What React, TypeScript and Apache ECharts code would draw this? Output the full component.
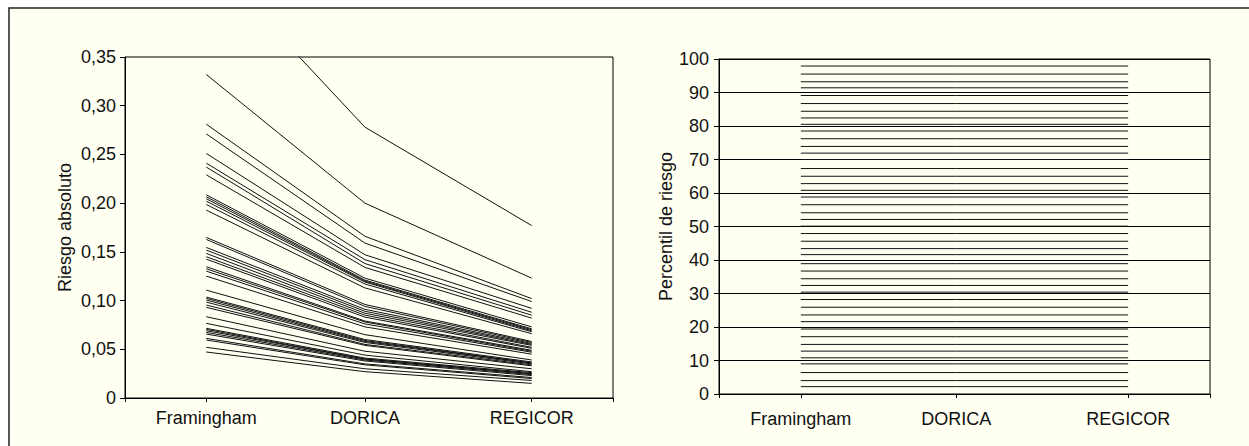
import React, { useEffect, useRef } from "react";
import * as echarts from "echarts";

const categories = ["Framingham", "DORICA", "REGICOR"];
const leftCategoryX = [1, 2.95, 5];
const rightCategoryX = [1, 2.9, 5];
const xTickValuesLeft = [0, 1, 2.95, 5, 6];
const xTickValuesRight = [0, 1, 2.9, 5, 6];

const framingham = [
  0.452, 0.332, 0.281, 0.271, 0.251, 0.241, 0.237, 0.229, 0.2085, 0.2065, 0.2045,
  0.202, 0.1986, 0.1928, 0.1648, 0.1627, 0.1545, 0.1518, 0.1484, 0.145, 0.1425,
  0.1347, 0.1326, 0.1302, 0.1251, 0.1107, 0.1036, 0.1022, 0.1005, 0.0984, 0.0954,
  0.093, 0.0834, 0.0766, 0.0715, 0.0704, 0.069, 0.0673, 0.0656, 0.0612, 0.0595,
  0.052, 0.0472,
];
const dorica = [
  0.278, 0.2, 0.166, 0.159, 0.147, 0.142, 0.138, 0.134, 0.123, 0.121, 0.12,
  0.119, 0.117, 0.113, 0.096, 0.094, 0.091, 0.089, 0.087, 0.085, 0.083,
  0.079, 0.078, 0.076, 0.073, 0.065, 0.06, 0.059, 0.058, 0.057, 0.055,
  0.054, 0.048, 0.044, 0.041, 0.04, 0.04, 0.039, 0.038, 0.035, 0.034,
  0.03, 0.027,
];
const regicor = [
  0.177, 0.123, 0.102, 0.099, 0.092, 0.088, 0.085, 0.082, 0.073, 0.071, 0.07,
  0.069, 0.068, 0.066, 0.058, 0.057, 0.056, 0.055, 0.054, 0.052, 0.051,
  0.049, 0.048, 0.047, 0.045, 0.039, 0.037, 0.036, 0.036, 0.035, 0.034,
  0.033, 0.03, 0.027, 0.026, 0.025, 0.025, 0.024, 0.023, 0.021, 0.02,
  0.018, 0.015,
];
const percentiles = [
  2.2, 4.0, 6.4, 9.0, 10.8, 12.8, 14.8, 17.1, 19.4, 21.6, 23.6, 25.9, 28.2, 30.4,
  32.4, 34.4, 36.7, 38.9, 41.6, 43.4, 45.6, 47.9, 50.1, 52.1, 54.1, 56.5, 58.8,
  60.8, 62.8, 65.0, 67.3, 70.0, 71.9, 73.9, 76.2, 78.5, 80.5, 82.4, 84.4, 86.7,
  89.1, 91.4, 93.2, 95.5, 97.9,
];

const FONT = "'Liberation Sans', Arial, Helvetica, sans-serif";
const TXT = "#111";

export default function App() {
  const ref = useRef<HTMLDivElement>(null);
  useEffect(() => {
    if (!ref.current) return;
    const chart = echarts.init(ref.current, undefined, { renderer: "svg" });

    const xLabel = (positions: number[]) => (v: number) => {
      const i = positions.findIndex((p) => Math.abs(p - v) < 1e-6);
      return i >= 0 ? categories[i] : "";
    };

    const axisCommon = {
      axisLine: { show: true, lineStyle: { color: "#000", width: 1 } },
      axisTick: { show: true, length: 5, lineStyle: { color: "#000", width: 1 } },
    };

    const leftSeries = framingham.map((f, i) => ({
      type: "line",
      xAxisIndex: 0,
      yAxisIndex: 0,
      symbol: "none",
      silent: true,
      clip: true,
      lineStyle: { color: "#111", width: 1 },
      data: [
        [leftCategoryX[0], f],
        [leftCategoryX[1], dorica[i]],
        [leftCategoryX[2], regicor[i]],
      ],
    }));

    const rightSeries = percentiles.map((p) => ({
      type: "line",
      xAxisIndex: 1,
      yAxisIndex: 1,
      symbol: "none",
      silent: true,
      lineStyle: { color: "#111", width: 1 },
      data: [
        [rightCategoryX[0], p],
        [rightCategoryX[1], p],
        [rightCategoryX[2], p],
      ],
    }));

    chart.setOption({
      animation: false,
      backgroundColor: "#ffffff",
      textStyle: { fontFamily: FONT },
      graphic: [
        {
          type: "rect",
          z: -10,
          shape: { x: 9, y: 8, width: 1300, height: 500 },
          style: { fill: "#fffff2", stroke: "#222", lineWidth: 1.5 },
          silent: true,
        },
      ],
      grid: [
        {
          left: 125, top: 57, width: 488, height: 341,
          show: true, borderColor: "#000", borderWidth: 1, backgroundColor: "transparent",
        },
        {
          left: 719, top: 59, width: 491, height: 335,
          show: true, borderColor: "#000", borderWidth: 1, backgroundColor: "transparent",
        },
      ],
      xAxis: [
        {
          type: "value", gridIndex: 0, min: 0, max: 6, interval: 1,
          ...axisCommon,
          axisTick: { show: true, length: 4, customValues: xTickValuesLeft, lineStyle: { color: "#000" } },
          axisLabel: {
            customValues: leftCategoryX, formatter: xLabel(leftCategoryX),
            fontSize: 18, color: TXT, fontFamily: FONT, margin: 11,
          },
          splitLine: { show: false },
        },
        {
          type: "value", gridIndex: 1, min: 0, max: 6, interval: 1,
          ...axisCommon,
          axisTick: { show: true, length: 4, customValues: xTickValuesRight, lineStyle: { color: "#000" } },
          axisLabel: {
            customValues: rightCategoryX, formatter: xLabel(rightCategoryX),
            fontSize: 18, color: TXT, fontFamily: FONT, margin: 16,
          },
          splitLine: { show: false },
        },
      ],
      yAxis: [
        {
          type: "value", gridIndex: 0, min: 0, max: 0.35, interval: 0.05,
          ...axisCommon,
          axisLabel: {
            fontSize: 18, color: TXT, fontFamily: FONT, margin: 9,
            formatter: (v: number) => (v === 0 ? "0" : v.toFixed(2).replace(".", ",")),
          },
          splitLine: { show: false },
          name: "Riesgo absoluto",
          nameLocation: "middle",
          nameGap: 51,
          nameTextStyle: { fontSize: 18, color: TXT, fontFamily: FONT },
        },
        {
          type: "value", gridIndex: 1, min: 0, max: 100, interval: 10,
          ...axisCommon,
          axisLabel: { fontSize: 18, color: TXT, fontFamily: FONT, margin: 10 },
          splitLine: { show: true, lineStyle: { color: "#000", width: 1.2 } },
          name: "Percentil de riesgo",
          nameLocation: "middle",
          nameGap: 33,
          nameTextStyle: { fontSize: 18, color: TXT, fontFamily: FONT },
        },
      ],
      series: [...leftSeries, ...rightSeries],
    });
    return () => chart.dispose();
  }, []);
  return (
    <div
      ref={ref}
      style={{ position: "fixed", left: 0, top: 0, width: 1249, height: 446 }}
    />
  );
}
